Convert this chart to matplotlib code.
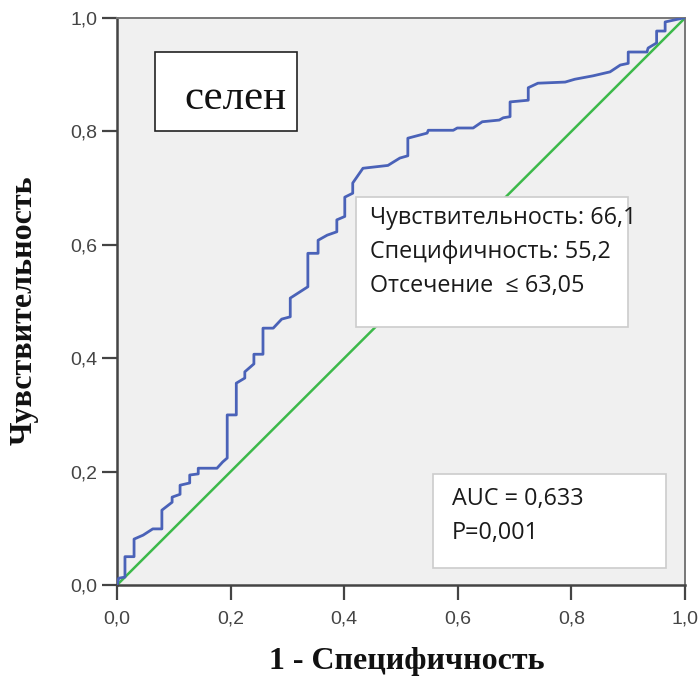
import matplotlib
matplotlib.use("Agg")
import matplotlib.pyplot as plt
from matplotlib.patches import Rectangle

# ROC curve vertices (1 - specificity, sensitivity)
fpr = [0.0, 0.003, 0.014, 0.014, 0.030, 0.030, 0.046, 0.063, 0.079, 0.079,
       0.097, 0.097, 0.111, 0.111, 0.128, 0.128, 0.143, 0.143, 0.176, 0.186,
       0.194, 0.194, 0.210, 0.210, 0.225, 0.225, 0.241, 0.241, 0.257, 0.257,
       0.275, 0.290, 0.305, 0.305, 0.336, 0.336, 0.354, 0.354, 0.370, 0.387,
       0.387, 0.401, 0.401, 0.415, 0.415, 0.433, 0.477, 0.485, 0.498, 0.512,
       0.512, 0.546, 0.548, 0.592, 0.599, 0.627, 0.643, 0.673, 0.680, 0.692,
       0.692, 0.724, 0.724, 0.741, 0.789, 0.806, 0.838, 0.868, 0.886, 0.900,
       0.900, 0.933, 0.935, 0.950, 0.950, 0.965, 0.965, 0.997, 1.0]
tpr = [0.0, 0.012, 0.014, 0.050, 0.050, 0.081, 0.088, 0.099, 0.099, 0.132,
       0.146, 0.155, 0.160, 0.176, 0.180, 0.194, 0.196, 0.206, 0.206, 0.217,
       0.224, 0.300, 0.300, 0.356, 0.365, 0.376, 0.390, 0.407, 0.407, 0.453,
       0.453, 0.469, 0.473, 0.506, 0.526, 0.585, 0.585, 0.608, 0.617, 0.623,
       0.644, 0.650, 0.684, 0.691, 0.709, 0.735, 0.740, 0.745, 0.753, 0.757,
       0.788, 0.797, 0.802, 0.802, 0.806, 0.806, 0.817, 0.820, 0.824, 0.826,
       0.852, 0.855, 0.877, 0.885, 0.887, 0.892, 0.898, 0.905, 0.917, 0.920,
       0.940, 0.940, 0.947, 0.956, 0.977, 0.977, 0.993, 1.0, 1.0]
ref_line = [0.0, 1.0]
ticks = [0.0, 0.2, 0.4, 0.6, 0.8, 1.0]
tick_labels = ["0,0", "0,2", "0,4", "0,6", "0,8", "1,0"]

marker_name = "селен"
cut_lines = ["Чувствительность: 66,1", "Специфичность: 55,2", "Отсечение  ≤ 63,05"]
auc_lines = ["AUC = 0,633", "P=0,001"]

c_roc = "#4a62b8"
c_ref = "#3cb94a"
c_axis = "#444444"
SANS = ["Open Sans", "DejaVu Sans"]
SERIF = "Liberation Serif"

fig = plt.figure(figsize=(6.99, 6.79), dpi=100)
ax = fig.add_axes([0.1674, 0.1384, 0.8126, 0.8351])
ax.set_facecolor("#f0f0f0")

ax.plot(ref_line, ref_line, color=c_ref, lw=1.8, zorder=2)
ax.plot(fpr, tpr, color=c_roc, lw=2.0, zorder=3)

ax.set_xlim(0, 1)
ax.set_ylim(0, 1)
ax.set_xticks(ticks)
ax.set_xticklabels(tick_labels)
ax.set_yticks(ticks)
ax.set_yticklabels(tick_labels)
ax.tick_params(axis="both", length=11, width=1.6, color=c_axis, labelcolor=c_axis,
               labelsize=14)
ax.tick_params(axis="x", pad=7)
ax.tick_params(axis="y", pad=3)
for lab in ax.get_xticklabels() + ax.get_yticklabels():
    lab.set_family("Liberation Sans")
for s in ["left", "bottom"]:
    ax.spines[s].set_color(c_axis)
    ax.spines[s].set_linewidth(1.8)
for s in ["top", "right"]:
    ax.spines[s].set_color("#777777")
    ax.spines[s].set_linewidth(1.4)

# boxes
ax.add_patch(Rectangle((0.0669, 0.8007), 0.250, 0.139, transform=ax.transAxes,
                       fc="white", ec="#222222", lw=1.2, zorder=5))
ax.text(0.209, 0.857, marker_name, transform=ax.transAxes, ha="center", va="center",
        family=SERIF, fontsize=31, color="#111111", zorder=6)

ax.add_patch(Rectangle((0.421, 0.455), 0.479, 0.229, transform=ax.transAxes,
                       fc="white", ec="#cccccc", lw=1.2, zorder=5))
for i, t in enumerate(cut_lines):
    ax.text(0.445, 0.647 - i * 0.060, t, transform=ax.transAxes, ha="left", va="center",
            family=SANS, fontsize=16.8, color="#1a1a1a", zorder=6)

ax.add_patch(Rectangle((0.556, 0.030), 0.411, 0.166, transform=ax.transAxes,
                       fc="white", ec="#cccccc", lw=1.2, zorder=5))
for i, t in enumerate(auc_lines):
    ax.text(0.590, 0.152 - i * 0.060, t, transform=ax.transAxes, ha="left", va="center",
            family=SANS, fontsize=16.8, color="#1a1a1a", zorder=6)

fig.text(0.582, 1 - 662 / 679, "1 - Специфичность", ha="center", va="center",
         family=SERIF, fontweight="bold", fontsize=23, color="#111111")
fig.text(24 / 699, 1 - 310 / 679, "Чувствительность", ha="center", va="center",
         rotation=90, family=SERIF, fontweight="bold", fontsize=23, color="#111111")

fig.savefig("out.png", dpi=100)
